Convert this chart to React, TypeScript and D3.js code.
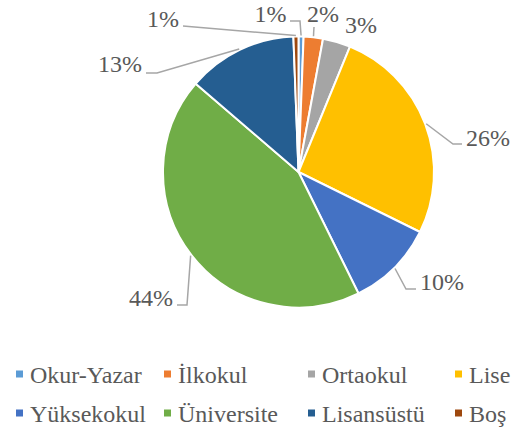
import React from "react";
import * as d3 from "d3";

const categories = ["Okur-Yazar", "İlkokul", "Ortaokul", "Lise", "Yüksekokul", "Üniversite", "Lisansüstü", "Boş"];
const values = [0.6, 2.3, 3.3, 26.1, 10.4, 43.6, 13.1, 0.6];
const colors = ["#5B9BD5", "#ED7D31", "#A5A5A5", "#FFC000", "#4472C4", "#70AD47", "#255E91", "#9E480E"];

// label layout: text position, anchor, leader bend points (relative to pie centre)
const labelLayout: { tx: number; ty: number; anchor: string; bends: [number, number][] }[] = [
  { tx: -12, ty: -150, anchor: "end", bends: [[1.5, -151], [-8.5, -151]] },
  { tx: 8.5, ty: -150, anchor: "start", bends: [[15.5, -145]] },
  { tx: 46.5, ty: -139, anchor: "start", bends: [] },
  { tx: 167.5, ty: -26, anchor: "start", bends: [[154.5, -28], [163.5, -28]] },
  { tx: 121.5, ty: 118, anchor: "start", bends: [[107.5, 117], [117.5, 117]] },
  { tx: -125.5, ty: 134, anchor: "end", bends: [[-111.5, 133], [-121.5, 133]] },
  { tx: -156.5, ty: -100, anchor: "end", bends: [[-141.5, -99], [-152.5, -99]] },
  { tx: -119.5, ty: -145, anchor: "end", bends: [[-115.5, -146]] },
];

const W = 515;
const H = 434;
const cx = 298.5;
const cy = 172;
const R = 135.5;
const SERIF = "Liberation Serif";

export default function App() {
  const total = d3.sum(values);
  const pie = d3.pie<number>().sort(null).value((d) => d)(values);
  const arc = d3.arc<d3.PieArcDatum<number>>().innerRadius(0).outerRadius(R);

  const legendCols = [16, 164, 308, 455];
  const legendRows = [374, 413];

  return (
    <svg width={W} height={H} style={{ position: "absolute", left: 0, top: 0 }}>
      <rect width={W} height={H} fill="#fff" />
      <g transform={`translate(${cx},${cy})`}>
        {pie.map((p, i) => (
          <path key={i} d={arc(p) || ""} fill={colors[i]} stroke="#fff" strokeWidth={2} strokeLinejoin="round" />
        ))}
        {pie.map((p, i) => {
          const L = labelLayout[i];
          const mid = (p.startAngle + p.endAngle) / 2;
          const sx = Math.sin(mid) * (R + 1);
          const sy = -Math.cos(mid) * (R + 1);
          const pts: [number, number][] = [[sx, sy], ...L.bends];
          const pct = Math.round((values[i] / total) * 100);
          return (
            <g key={i}>
              {L.bends.length > 0 && (
                <polyline
                  points={pts.map((q) => q.join(",")).join(" ")}
                  fill="none"
                  stroke="#A6A6A6"
                  strokeWidth={1.5}
                />
              )}
              <text
                x={L.tx}
                y={L.ty}
                textAnchor={L.anchor}
                fontFamily={SERIF}
                fontSize={24}
                style={{ fontFamily: `"${SERIF}"`, fontSize: "24px" }}
                fill="#595959"
              >
                <tspan fontFamily={SERIF}>
                  {pct}%
                </tspan>
              </text>
            </g>
          );
        })}
      </g>
      {categories.map((c, i) => {
        const col = i % 4;
        const row = Math.floor(i / 4);
        const x = legendCols[col];
        const y = legendRows[row];
        return (
          <g key={c}>
            <rect x={x} y={y - 3.5} width={7} height={7} fill={colors[i]} />
            <text
              x={x + 14}
              y={y + 9}
              fontFamily={SERIF}
              fontSize={24}
              style={{ fontFamily: `"${SERIF}"`, fontSize: "24px" }}
              fill="#595959"
            >
              <tspan fontFamily={SERIF}>{c}</tspan>
            </text>
          </g>
        );
      })}
    </svg>
  );
}
